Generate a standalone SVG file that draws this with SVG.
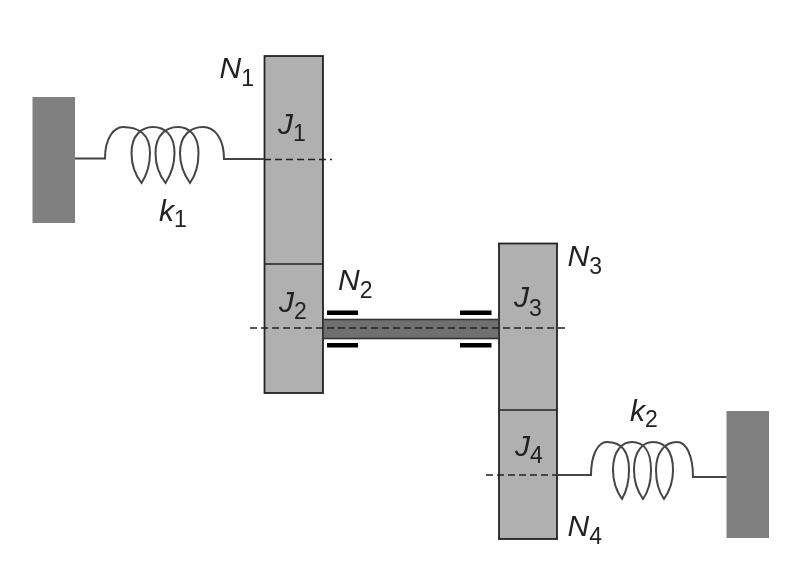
<svg xmlns="http://www.w3.org/2000/svg" width="801" height="576" viewBox="0 0 801 576">
<defs>
<style>
.wall{fill:#808080}
.gear{fill:#b0b0b0;stroke:#222;stroke-width:1.8}
.div{fill:none;stroke:#222;stroke-width:1.6}
.shaft{fill:#6f6f6f;stroke:#333;stroke-width:1.6}
.bearing{fill:#000}
.dash{fill:none;stroke:#222;stroke-width:1.5;stroke-dasharray:7 4}
.wire{fill:none;stroke:#444;stroke-width:2}
.lbl{font-family:"Liberation Sans",Arial,sans-serif;font-size:30px;font-style:italic;fill:#222}
.sub{font-size:23px;font-style:normal}
</style>
<filter id="soft" x="-5%" y="-5%" width="110%" height="110%"><feGaussianBlur stdDeviation="0.5"/></filter>
</defs>
<rect width="801" height="576" fill="#fff"/>
<g filter="url(#soft)">
<g id="wall-left"><rect class="wall" x="32.5" y="97" width="42.5" height="126"/></g>
<g id="wall-right"><rect class="wall" x="726.5" y="411" width="42.5" height="127"/></g>
<g id="gear-left">
<rect class="gear" x="264.500" y="56" width="58.500" height="337"/>
<line class="div" x1="264.500" y1="264" x2="323" y2="264"/>
<text class="lbl" x="278" y="134">J<tspan class="sub" dy="7">1</tspan></text>
<text class="lbl" x="279" y="312">J<tspan class="sub" dy="7">2</tspan></text>
</g>
<g id="gear-right">
<rect class="gear" x="499" y="243.500" width="58" height="295.500"/>
<line class="div" x1="499" y1="410" x2="557" y2="410"/>
<text class="lbl" x="514" y="307">J<tspan class="sub" dy="9">3</tspan></text>
<text class="lbl" x="515" y="456">J<tspan class="sub" dy="7">4</tspan></text>
</g>
<g id="shaft"><rect class="shaft" x="323" y="319.500" width="176" height="19"/></g>
<g id="bearings">
<rect class="bearing" x="327" y="310.500" width="31" height="4.500"/>
<rect class="bearing" x="327" y="343" width="31" height="4.500"/>
<rect class="bearing" x="460" y="310.500" width="31.500" height="4.500"/>
<rect class="bearing" x="460" y="343" width="31.500" height="4.500"/>
</g>
<g id="connectors">
<path class="wire" d="M75,158.500H105C105,138 114,127 123,127C138,127 150,134 150,153C150,166 146,176 141.500,183C136,176 131.500,166 131.500,153C131.500,135 142,127 153,127C164,127 174.500,134 174.500,153C174.500,166 170,176 165.500,183C160,176 155.500,166 155.500,153C155.500,135 166,127 178,127C188,127 198.500,134 198.500,153C198.500,166 195,176 190,183C185,176 180,166 180,153C180,135 191,127 203,127C215,127 224,139 224,159H264.500"/>
<path class="wire" d="M557,475H591C591,455 598,442 607,442C620,442 629,450 629,470C629,483 626,492 622,499C617,492 613,483 613,470C613,451 622,442 632,442C643,442 651,450 651,470C651,483 648,492 643,499C638,492 634,483 634,470C634,451 643,442 653,442C664,442 673,450 673,470C673,483 669,492 664,499C659,492 656,483 656,470C656,451 666,442 677,442C686,442 693,455 693,477H726.500"/>
<line class="dash" x1="264" y1="159.500" x2="332" y2="159.500"/>
<line class="dash" x1="250" y1="328" x2="565" y2="328"/>
<line class="dash" x1="486" y1="475" x2="557" y2="475"/>
</g>
<g id="labels">
<text class="lbl" x="219.500" y="78">N<tspan class="sub" dy="8">1</tspan></text>
<text class="lbl" x="159" y="221">k<tspan class="sub" dy="6">1</tspan></text>
<text class="lbl" x="338" y="290">N<tspan class="sub" dy="8">2</tspan></text>
<text class="lbl" x="567.500" y="266">N<tspan class="sub" dy="8">3</tspan></text>
<text class="lbl" x="630" y="421">k<tspan class="sub" dy="6">2</tspan></text>
<text class="lbl" x="567.500" y="536">N<tspan class="sub" dy="8">4</tspan></text>
</g>
</g>
</svg>
